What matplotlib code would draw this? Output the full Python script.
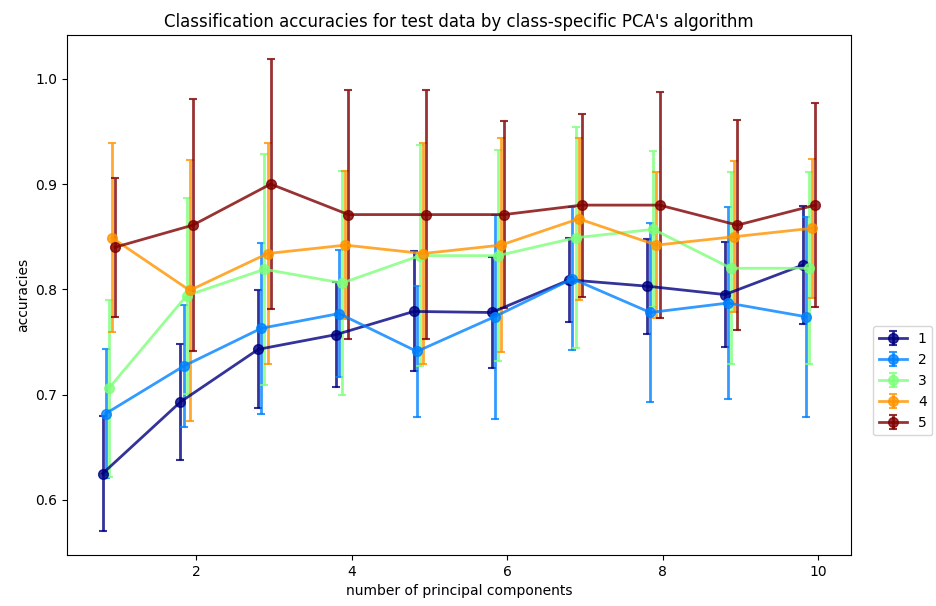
import matplotlib
matplotlib.use("Agg")
import matplotlib.pyplot as plt
import numpy as np

components = [1, 2, 3, 4, 5, 6, 7, 8, 9, 10]
labels = ["1", "2", "3", "4", "5"]

acc_1 = [0.625, 0.693, 0.743, 0.757, 0.779, 0.778, 0.809, 0.803, 0.795, 0.823]
err_1 = [0.055, 0.055, 0.056, 0.050, 0.057, 0.053, 0.040, 0.045, 0.050, 0.056]
acc_2 = [0.682, 0.727, 0.763, 0.777, 0.741, 0.774, 0.810, 0.778, 0.787, 0.774]
err_2 = [0.061, 0.058, 0.081, 0.060, 0.062, 0.097, 0.068, 0.085, 0.091, 0.095]
acc_3 = [0.706, 0.794, 0.819, 0.806, 0.832, 0.832, 0.849, 0.857, 0.820, 0.820]
err_3 = [0.084, 0.093, 0.110, 0.106, 0.105, 0.100, 0.105, 0.074, 0.091, 0.091]
acc_4 = [0.849, 0.799, 0.834, 0.842, 0.834, 0.842, 0.867, 0.842, 0.850, 0.858]
err_4 = [0.090, 0.124, 0.105, 0.070, 0.105, 0.102, 0.077, 0.069, 0.072, 0.066]
acc_5 = [0.840, 0.861, 0.900, 0.871, 0.871, 0.871, 0.880, 0.880, 0.861, 0.880]
err_5 = [0.066, 0.120, 0.119, 0.118, 0.118, 0.089, 0.087, 0.107, 0.100, 0.097]

offsets = [-0.20, -0.16, -0.12, -0.08, -0.04]
accs = [acc_1, acc_2, acc_3, acc_4, acc_5]
errs = [err_1, err_2, err_3, err_4, err_5]

fig = plt.figure(figsize=(9.37, 6.06), dpi=100)
ax = fig.add_axes([0.0715, 0.084, 0.8365, 0.858])
cmap = plt.get_cmap("jet")
x = np.array(components, dtype=float)
for i, (a, e, lab) in enumerate(zip(accs, errs, labels)):
    c = cmap(i / 4)
    ax.errorbar(x + offsets[i], a, yerr=e, color=c, marker="o", markersize=7,
                linewidth=2, elinewidth=2, capsize=3, capthick=1.5,
                alpha=0.8, label=lab)

ax.set_xticks([2, 4, 6, 8, 10])
ax.set_yticks([0.6, 0.7, 0.8, 0.9, 1.0])
ax.tick_params(labelsize=10)
ax.set_xlabel("number of principal components", fontsize=10)
ax.set_ylabel("accuracies", fontsize=10)
ax.set_title("Classification accuracies for test data by class-specific PCA's algorithm",
             fontsize=12)
ax.legend(loc="center left", bbox_to_anchor=(1.02, 0.335), fontsize=10)
fig.savefig("out.png", dpi=100)
